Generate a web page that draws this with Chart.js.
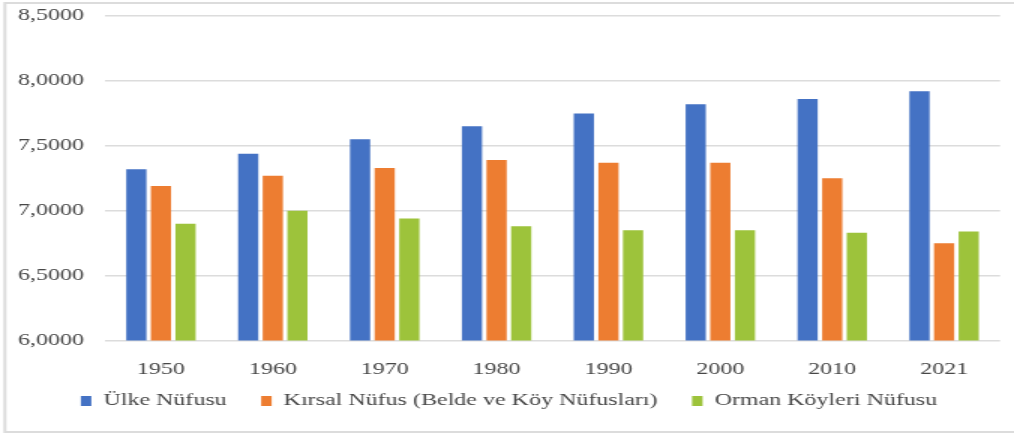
<!DOCTYPE html>
<html>
<head>
<meta charset="utf-8">
<script src="https://cdn.jsdelivr.net/npm/chart.js@4.4.1/dist/chart.umd.min.js"></script>
<style>
  html, body { margin: 0; padding: 0; background: #ffffff; overflow: hidden; }
  #wrap { width: 1014px; height: 439px; position: relative; overflow: hidden; }
  /* the reference picture is stretched horizontally; draw narrower and stretch the same way */
  #c { position: absolute; left: 0; top: 0; transform: scaleX(1.5); transform-origin: 0 0; }
</style>
</head>
<body>
<div id="wrap"><canvas id="c" width="676" height="439"></canvas></div>
<script>
const categories = ['1950', '1960', '1970', '1980', '1990', '2000', '2010', '2021'];
const seriesNames = ['Ülke Nüfusu', 'Kırsal Nüfus (Belde ve Köy Nüfusları)', 'Orman Köyleri Nüfusu'];
const ulkeNufusu   = [7.32, 7.44, 7.55, 7.65, 7.75, 7.82, 7.86, 7.92];
const kirsalNufus  = [7.19, 7.27, 7.33, 7.39, 7.37, 7.37, 7.25, 6.75];
const ormanKoyleri = [6.90, 7.00, 6.94, 6.88, 6.85, 6.85, 6.83, 6.84];
const yMin = 6, yMax = 8.5, yStep = 0.5;

const FONT = '"Liberation Serif", "Times New Roman", serif';
const TEXT = '#474747';

const framePlugin = {
  id: 'frame',
  beforeDraw(chart) {
    const ctx = chart.ctx;
    ctx.save();
    ctx.fillStyle = '#ffffff';
    ctx.fillRect(0, 0, chart.width, chart.height);
    ctx.strokeStyle = '#dcdcdc';
    ctx.lineWidth = 2;
    ctx.strokeRect(3.3, 3, chart.width + 10, 429);
    ctx.restore();
  }
};

new Chart(document.getElementById('c'), {
  type: 'bar',
  data: {
    labels: categories,
    datasets: [
      { label: seriesNames[0], data: ulkeNufusu,   backgroundColor: '#4472C4', borderWidth: 0 },
      { label: seriesNames[1], data: kirsalNufus,  backgroundColor: '#ED7D31', borderWidth: 0 },
      { label: seriesNames[2], data: ormanKoyleri, backgroundColor: '#9DC33B', borderWidth: 0 }
    ]
  },
  options: {
    responsive: false,
    animation: false,
    devicePixelRatio: 1,
    layout: { padding: { left: 12, right: 9.3, top: 16, bottom: 20 } },
    datasets: { bar: { categoryPercentage: 0.66, barPercentage: 0.82 } },
    plugins: {
      legend: {
        position: 'bottom',
        labels: {
          boxWidth: 7, boxHeight: 10, padding: 23,
          color: TEXT, font: { family: FONT, size: 16 }
        }
      },
      tooltip: { enabled: false },
      title: { display: false }
    },
    scales: {
      x: {
        grid: { display: false, drawTicks: false },
        border: { display: false },
        ticks: { color: TEXT, font: { family: FONT, size: 16 }, padding: 20 },
        afterFit(scale) {
          scale.height = 29.4;
          scale._computeLabelArea = function () { return undefined; };
        }
      },
      y: {
        min: yMin, max: yMax,
        grid: { color: '#dcdcdc', lineWidth: 1.5, drawTicks: false },
        border: { display: false },
        ticks: {
          stepSize: yStep, color: TEXT, font: { family: FONT, size: 16 }, padding: 0,
          crossAlign: 'far',
          callback: (v) => v.toFixed(4).replace('.', ',')
        },
        afterFit(scale) { scale.width = 58; }
      }
    }
  },
  plugins: [framePlugin]
});
</script>
</body>
</html>
